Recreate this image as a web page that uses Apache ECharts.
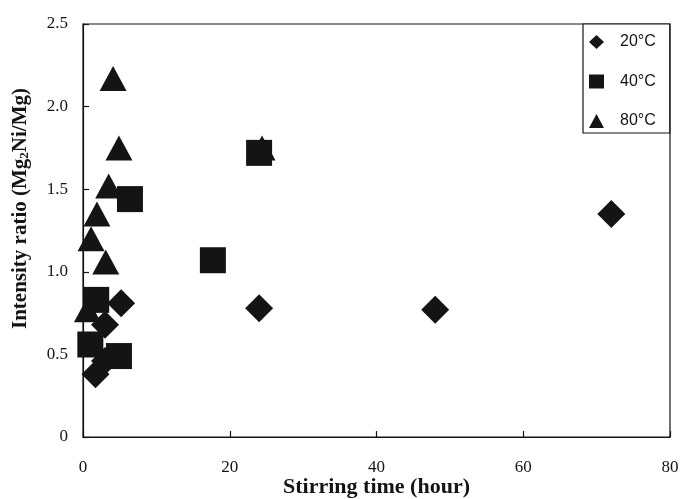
<!DOCTYPE html>
<html>
<head>
<meta charset="utf-8">
<script src="https://cdn.jsdelivr.net/npm/echarts@6/dist/echarts.min.js"></script>
<style>html,body{margin:0;padding:0;background:#fff;}#c{width:681px;height:499px;}</style>
</head>
<body>
<div id="c"></div>
<script>
// Data: [stirring time (hour), intensity ratio]
const seriesNames = ['20°C', '40°C', '80°C'];
const data20 = [[1.7, 0.38], [3.0, 0.46], [3.0, 0.68], [5.2, 0.81], [24, 0.78], [48, 0.77], [72, 1.35]];
const data40 = [[1.0, 0.56], [1.8, 0.83], [4.9, 0.49], [6.4, 1.44], [17.7, 1.07], [24, 1.72]];
const data80 = [[0.6, 0.77], [1.1, 1.20], [1.9, 1.35], [3.1, 1.06], [3.5, 1.52], [4.1, 2.17], [4.9, 1.75], [24.4, 1.75]];
const xTicks = [0, 20, 40, 60, 80];
const yTicks = [0, 0.5, 1.0, 1.5, 2.0, 2.5];

const serif = '"Liberation Serif", "Times New Roman", serif';
const sans = '"Liberation Sans", Arial, sans-serif';
const ink = '#141414';

const chart = echarts.init(document.getElementById('c'), null, {renderer: 'canvas'});
chart.setOption({
  animation: false,
  backgroundColor: '#fff',
  grid: {left: 83, top: 24, right: 11, bottom: 62, containLabel: false, outerBoundsMode: 'none',
    show: true, borderColor: ink, borderWidth: 1.2, backgroundColor: 'transparent'},
  legend: {
    orient: 'vertical', left: 583, top: 24,
    padding: [10, 14, 4, 6],
    itemWidth: 15, itemHeight: 14, itemGap: 23.5,
    borderColor: ink, borderWidth: 1.2, backgroundColor: '#fff',
    textStyle: {fontFamily: sans, fontSize: 16, color: ink, lineHeight: 14, padding: [0, 0, 0, 11]},
    itemStyle: {opacity: 1},
    data: [
      {name: seriesNames[0], icon: 'diamond'},
      {name: seriesNames[1], icon: 'rect'},
      {name: seriesNames[2], icon: 'triangle'}
    ]
  },
  xAxis: {
    type: 'value', min: xTicks[0], max: xTicks[xTicks.length - 1], interval: 20,
    name: 'Stirring time (hour)', nameLocation: 'middle', nameGap: 39, nameMoveOverlap: false,
    nameTextStyle: {fontFamily: serif, fontSize: 22, fontWeight: 'bold', color: ink},
    axisLine: {lineStyle: {color: ink, width: 1.2}},
    axisTick: {inside: true, length: 6, lineStyle: {color: ink, width: 1.2}},
    axisLabel: {fontFamily: serif, fontSize: 17, color: ink, margin: 22},
    splitLine: {show: false}
  },
  yAxis: {
    type: 'value', min: yTicks[0], max: yTicks[yTicks.length - 1], interval: 0.5,
    name: 'Intensity ratio (Mg{sub|2}Ni/Mg)', nameLocation: 'middle', nameGap: 52, nameRotate: 90, nameMoveOverlap: false,
    nameTextStyle: {
      fontFamily: serif, fontSize: 21, fontWeight: 'bold', color: ink, padding: [0, 0, 0, 44],
      rich: {sub: {fontFamily: serif, fontSize: 13, fontWeight: 'bold', color: ink, verticalAlign: 'bottom', padding: [7, 0, 0, 0]}}
    },
    axisLine: {lineStyle: {color: ink, width: 1.2}},
    axisTick: {inside: true, length: 6, lineStyle: {color: ink, width: 1.2}},
    axisLabel: {fontFamily: serif, fontSize: 17, color: ink, margin: 15,
      formatter: v => v === 0 ? '0' : v.toFixed(1)},
    splitLine: {show: false}
  },
  series: [
    {name: seriesNames[0], type: 'scatter', symbol: 'diamond', symbolSize: 28, data: data20, itemStyle: {color: ink, opacity: 1}},
    {name: seriesNames[1], type: 'scatter', symbol: 'rect', symbolSize: 26, data: data40, itemStyle: {color: ink, opacity: 1}},
    {name: seriesNames[2], type: 'scatter', symbol: 'triangle', symbolSize: [27, 25], data: data80, itemStyle: {color: ink, opacity: 1}}
  ]
});
</script>
</body>
</html>
